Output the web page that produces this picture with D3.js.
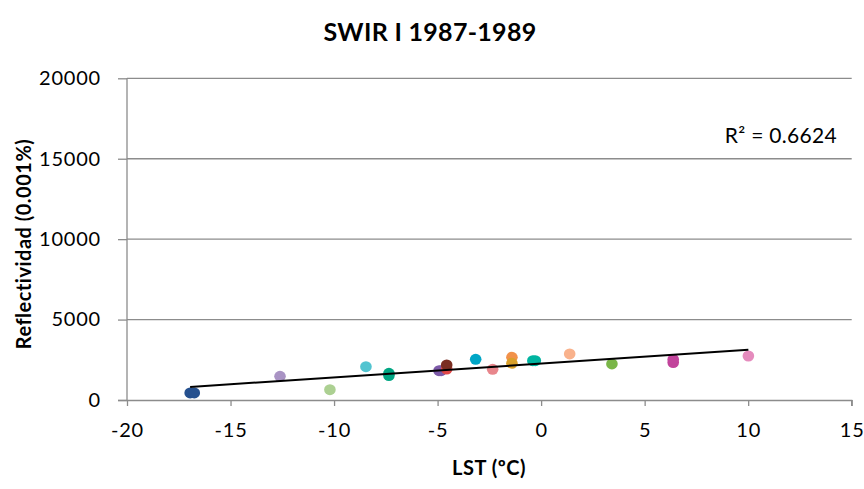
<!DOCTYPE html>
<html><head><meta charset="utf-8">
<script src="https://cdn.jsdelivr.net/npm/d3@7"></script>
<style>html,body{margin:0;padding:0;background:#fff;}</style>
</head><body>
<svg id="chart" width="864" height="489"></svg>
<script>
const title = "SWIR I 1987-1989";
const xLabel = "LST (ºC)";
const yLabel = "Reflectividad  (0.001%)";
const r2Label = "R² = 0.6624";
const xTicks = [-20, -15, -10, -5, 0, 5, 10, 15];
const yTicks = [0, 5000, 10000, 15000, 20000];
const lst = [-16.95, -16.75, -12.61, -10.20, -8.46, -7.35, -7.35, -4.93, -4.83, -4.56, -4.56, -3.16, -2.34, -1.41, -1.41, -0.40, -0.28, 1.38, 3.42, 6.38, 6.38, 10.01];
const refl = [440, 440, 1474, 640, 2071, 1520, 1660, 1822, 1822, 1928, 2177, 2531, 1909, 2655, 2282, 2444, 2444, 2861, 2239, 2330, 2520, 2736];
const colors = ["#25508e", "#25508e", "#a993c4", "#acd092", "#52c4d0", "#00a683", "#00a683", "#7d5aa8", "#7d5aa8", "#e04848", "#7a2e22", "#00a6c6", "#e8868c", "#f2914a", "#d9a02a", "#00b4a0", "#00b4a0", "#f9b28c", "#7ab648", "#c2449c", "#c2449c", "#e58bbd"];

const font = "Lato, 'Open Sans', sans-serif";
const svg = d3.select("#chart");
const L = 127, R = 851.7, T = 78.3, B = 400;
const x = d3.scaleLinear().domain([-20, 15]).range([L, R]);
const y = d3.scaleLinear().domain([0, 20000]).range([B, T]);
const grey = "#8c8c8c";

// gridlines
svg.append("g").selectAll("line").data(yTicks.filter(d => d > 0)).join("line")
  .attr("x1", L).attr("x2", R).attr("y1", d => y(d)).attr("y2", d => y(d))
  .attr("stroke", grey).attr("stroke-width", 1.3);

// axes
const yAxis = d3.axisLeft(y).tickValues(yTicks).tickSize(9).tickPadding(17).tickFormat(d3.format("d"));
const gy = svg.append("g").attr("transform", `translate(${L},0)`).call(yAxis);
const xAxis = d3.axisBottom(x).tickValues(xTicks).tickSize(6).tickPadding(17).tickFormat(d3.format("d"));
const gx = svg.append("g").attr("transform", `translate(0,${B})`).call(xAxis);
[gx, gy].forEach(g => {
  g.select(".domain").attr("stroke", grey).attr("stroke-width", 1.3);
  g.selectAll(".tick line").attr("stroke", grey).attr("stroke-width", 1.3);
  g.selectAll("text").attr("fill", "#000").style("font-family", font).style("font-size", "20px").style("letter-spacing", "0.8px");
});
gx.selectAll(".tick text").text(d => d < 0 ? "-" + Math.abs(d) : d);
gx.select(".domain").attr("d", `M${L-9},0.5H${R}V6`);
gy.select(".domain").attr("d", `M0,${B}V${T}`);

// points
svg.append("g").selectAll("ellipse").data(lst.map((d, i) => [d, refl[i], colors[i]])).join("ellipse")
  .attr("cx", d => x(d[0])).attr("cy", d => y(d[1])).attr("rx", 5.8).attr("ry", 5.5)
  .attr("fill", d => d[2]);

// linear trend (least squares)
const mx = d3.mean(lst), my = d3.mean(refl);
const slope = d3.sum(lst.map((v, i) => (v - mx) * (refl[i] - my))) / d3.sum(lst.map(v => (v - mx) ** 2));
const icpt = my - slope * mx;
const [x0, x1] = d3.extent(lst);
svg.append("line").attr("x1", x(x0)).attr("x2", x(x1))
  .attr("y1", y(icpt + slope * x0)).attr("y2", y(icpt + slope * x1))
  .attr("stroke", "#000").attr("stroke-width", 2);

// texts
svg.append("text").attr("x", 430).attr("y", 41).attr("text-anchor", "middle")
  .style("font-family", font).style("font-size", "25px").style("font-weight", "bold").style("letter-spacing", "0.3px").text(title);
svg.append("text").attr("x", 489).attr("y", 475).attr("text-anchor", "middle")
  .style("font-family", font).style("font-size", "20px").style("font-weight", "bold").style("letter-spacing", "0.5px").text(xLabel);
svg.append("text").attr("transform", "translate(31,244) rotate(-90)").attr("text-anchor", "middle")
  .style("font-family", font).style("font-size", "20px").style("font-weight", "bold").style("letter-spacing", "0.5px").text(yLabel);
svg.append("text").attr("x", 837).attr("y", 143).attr("text-anchor", "end")
  .style("font-family", font).style("font-size", "21px").style("letter-spacing", "0.3px").text(r2Label);
</script>
</body></html>
